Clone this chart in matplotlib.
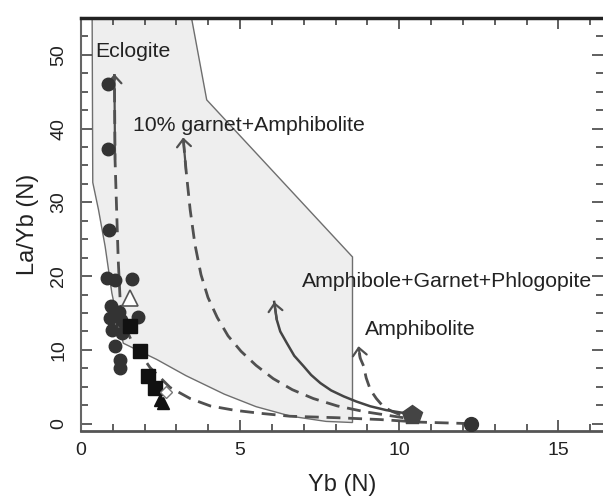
import matplotlib
matplotlib.use("Agg")
import matplotlib.pyplot as plt
from matplotlib.ticker import MultipleLocator

plt.rcParams['font.family'] = ['Liberation Sans', 'DejaVu Sans']

# shaded field outline
poly_x = [0.35, 0.37, 0.55, 0.76, 0.97, 1.15, 1.33, 2.38, 3.3, 4.5, 5.5, 6.6, 7.7, 8.53, 8.53, 3.95, 3.43]
poly_y = [56, 32.7, 29.0, 24.0, 17.7, 14.0, 10.9, 8.7, 6.5, 4.0, 2.3, 1.0, 0.3, 0.15, 22.6, 43.9, 56]

# melting trends (source -> arrow tip)
ecl_x = [12.23, 10.66, 9.4, 8.05, 6.57, 5.63, 4.84, 4.06, 3.43, 2.8, 2.17, 1.59, 1.32, 1.23, 1.17, 1.13, 1.07, 1.05]
ecl_y = [0.0, 0.2, 0.55, 0.8, 1.0, 1.4, 1.8, 2.4, 3.4, 4.9, 7.6, 11.2, 13.8, 16.8, 22.2, 27.6, 35.8, 47.4]

grt_x = [10.13, 8.93, 8.05, 7.3, 6.64, 6.04, 5.5, 5.03, 4.62, 4.28, 3.99, 3.77, 3.58, 3.43, 3.3, 3.21]
grt_y = [0.8, 1.6, 2.4, 3.4, 4.6, 6.1, 7.9, 9.8, 11.9, 14.4, 17.1, 20.2, 24.3, 29.0, 34.4, 38.8]

agp_x = [10.13, 9.59, 9.09, 8.65, 8.25, 7.86, 7.52, 7.23, 6.99, 6.7, 6.47, 6.26, 6.15, 6.07]
agp_y = [1.45, 1.83, 2.35, 3.0, 3.7, 4.5, 5.5, 6.6, 7.8, 9.2, 10.9, 12.5, 14.1, 16.5]

amp_x = [10.03, 9.75, 9.5, 9.28, 9.09, 8.96, 8.88, 8.77, 8.72]
amp_y = [1.2, 1.7, 2.3, 3.4, 4.6, 6.2, 7.8, 8.9, 10.5]

# samples
circ_x = [0.86, 0.84, 0.88, 0.81, 1.07, 1.6, 0.94, 1.2, 0.92, 1.25, 1.8, 0.96, 1.3, 1.08, 1.22, 1.23]
circ_y = [46.0, 37.2, 26.2, 19.7, 19.5, 19.6, 16.0, 15.2, 14.3, 14.0, 14.5, 12.7, 12.3, 10.5, 8.6, 7.5]
sq_x = [1.55, 1.86, 2.12, 2.33]
sq_y = [13.2, 9.8, 6.4, 4.8]
tri_x = [2.48, 2.59]
tri_y = [3.25, 2.8]
otri_x = [1.54]
otri_y = [17.0]
odia_x = [2.66]
odia_y = [4.3]
pent_x = [10.4]
pent_y = [1.2]
src_x = [12.25]
src_y = [0.0]

labels = ["Eclogite", "10% garnet+Amphibolite", "Amphibole+Garnet+Phlogopite", "Amphibolite"]
label_x = [0.44, 1.62, 6.94, 8.93]
label_y = [50.4, 40.4, 19.3, 12.7]

fig = plt.figure(figsize=(6.03, 4.97), dpi=100)
ax = fig.add_axes([0.1343, 0.1328, 0.8657, 0.831])

ax.fill(poly_x, poly_y, facecolor='#eeeeee', edgecolor='#6e6e6e', lw=1.0, zorder=1)

dash = dict(color='#505050', lw=2.0, dashes=(5.0, 2.8), zorder=2)
ax.plot(ecl_x, ecl_y, **dash)
ax.plot(grt_x, grt_y, **dash)
ax.plot(amp_x, amp_y, **dash)
ax.plot(agp_x, agp_y, color='#444444', lw=1.8, zorder=2)

head = dict(arrowstyle='->,head_length=0.55,head_width=0.5', color='#505050', lw=1.6,
            shrinkA=0, shrinkB=0, mutation_scale=10)
for xs, ys in [(ecl_x, ecl_y), (grt_x, grt_y), (agp_x, agp_y), (amp_x, amp_y)]:
    ax.annotate('', xy=(xs[-1], ys[-1]), xytext=(xs[-2], ys[-2]), arrowprops=head, zorder=3)

ax.plot(circ_x, circ_y, 'o', ms=9, color='#333333', zorder=4)
ax.plot(sq_x, sq_y, 's', ms=10, color='#111111', zorder=4)
ax.plot(tri_x, tri_y, '^', ms=9, color='#111111', zorder=4)
ax.plot(otri_x, otri_y, '^', ms=12, mfc='white', mec='#555555', mew=1.2, zorder=5)
ax.plot(odia_x, odia_y, 'D', ms=6, mfc='white', mec='#777777', mew=1.0, zorder=5)
ax.plot(pent_x, pent_y, 'p', ms=15, color='#444444', zorder=4)
ax.plot(src_x, src_y, 'o', ms=10, color='#333333', zorder=4)

for t, x, y in zip(labels, label_x, label_y):
    ax.text(x, y, t, fontsize=15.3, color='#222222', va='center', ha='left', zorder=6)

ax.set_xlim(0, 16.4)
ax.set_ylim(-1, 55)
ax.set_xticks([0, 5, 10, 15])
ax.set_yticks([0, 10, 20, 30, 40, 50])
ax.xaxis.set_minor_locator(MultipleLocator(1))
ax.yaxis.set_minor_locator(MultipleLocator(2.5))
ax.tick_params(which='both', direction='in', top=True, right=True, colors='#444444',
               labelcolor='#222222', labelsize=14, width=1.2)
ax.tick_params(which='major', length=8)
ax.tick_params(which='minor', length=5)
ax.tick_params(axis='x', pad=8)
ax.tick_params(axis='y', pad=10)
for lab in ax.get_yticklabels():
    lab.set_rotation(90)
    lab.set_va('center')

ax.spines['top'].set_linewidth(2.5)
ax.spines['top'].set_color('#222222')
ax.spines['left'].set_color('#666666')
ax.spines['left'].set_linewidth(1.5)
ax.spines['bottom'].set_color('#555555')
ax.spines['bottom'].set_linewidth(2)
ax.spines['right'].set_visible(False)

ax.set_xlabel('Yb (N)', fontsize=17, color='#222222', labelpad=11)
ax.set_ylabel('La/Yb (N)', fontsize=17, color='#222222', labelpad=8)

fig.savefig('out.png', dpi=100)
